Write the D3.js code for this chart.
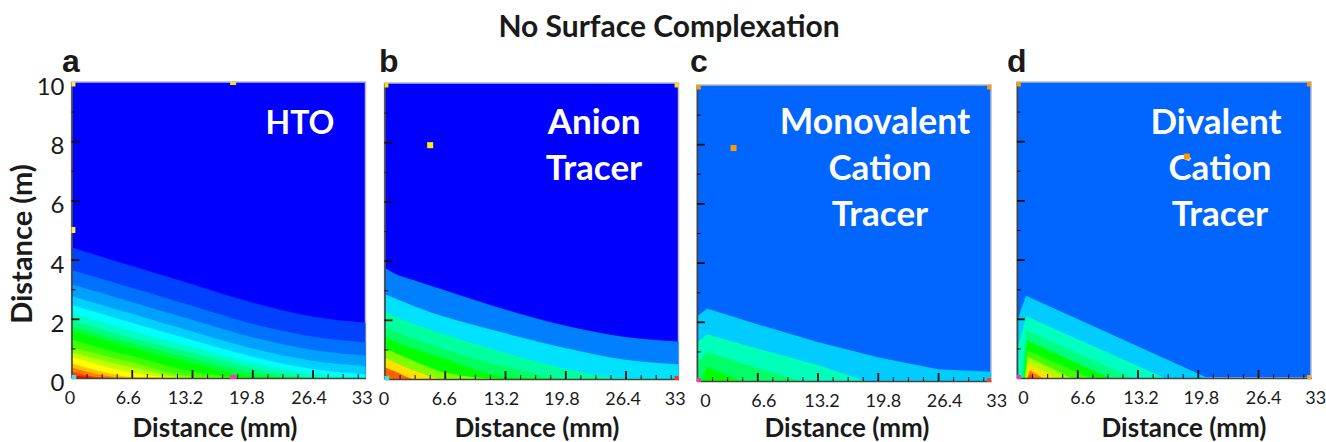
<!DOCTYPE html>
<html>
<head>
<meta charset="utf-8">
<script src="https://cdn.jsdelivr.net/npm/d3@7"></script>
<style>
  body { margin: 0; background: #fff; }
  text { font-family: Lato, "Open Sans", sans-serif; fill: #1a1a1a; }
</style>
</head>
<body>
<script>
'use strict';

const xTicks  = [0, 6.6, 13.2, 19.8, 26.4, 33];
const xMinor  = [1.65, 3.3, 4.95, 8.25, 9.9, 11.55, 14.85, 16.5, 18.15, 21.45, 23.1, 24.75, 28.05, 29.7, 31.35];
const yTicks  = [0, 2, 4, 6, 8, 10];
const yMinor  = [1, 3, 5, 7, 9];

// contour heights (m) at fixed distances (mm)
const stationsA = [0, 3.3, 6.6, 13.2, 19.8, 26.4, 32.2];
const colorsA = ['#0040ff', '#0070ff', '#00a0ff', '#00d0ff', '#00ffff', '#00ffc0', '#00ff80', '#00ff40',
                 '#00ff00', '#40ff00', '#80ff00', '#c0ff00', '#ffff00', '#ffc000', '#ff8000', '#ff4000', '#ff0000'];
const rowsA = [
  [4.42, 4.10, 3.78, 3.17, 2.55, 2.08, 1.87],
  [3.65, 3.35, 3.05, 2.44, 1.83, 1.40, 1.20],
  [3.17, 2.87, 2.57, 1.97, 1.38, 0.95, 0.76],
  [2.77, 2.47, 2.17, 1.57, 1.00, 0.58, 0.40],
  [2.47, 2.17, 1.87, 1.28, 0.72, 0.30, 0.12],
  [2.20, 1.90, 1.60, 1.05, 0.52, 0.14, 0],
  [1.95, 1.65, 1.35, 0.85, 0.33, 0.02, 0],
  [1.75, 1.45, 1.18, 0.66, 0.18, 0, 0],
  [1.60, 1.30, 1.02, 0.50, 0.06, 0, 0],
  [1.30, 1.00, 0.74, 0.22, 0, 0, 0],
  [1.05, 0.78, 0.53, 0.05, 0, 0, 0],
  [0.88, 0.60, 0.36, 0, 0, 0, 0],
  [0.72, 0.42, 0.18, 0, 0, 0, 0],
  [0.50, 0.22, 0.03, 0, 0, 0, 0],
  [0.36, 0.10, 0, 0, 0, 0, 0],
  [0.22, 0.02, 0, 0, 0, 0, 0],
  [0.10, 0, 0, 0, 0, 0, 0]
];

const stationsB = [0, 1.2, 3.3, 6.6, 13.2, 19.8, 26.4, 32.2];
const colorsB = ['#0080ff', '#00e0ff', '#00ffa0', '#00ff60', '#00ff00', '#80ff00', '#ffe000', '#ff6000'];
const rowsB = [
  [3.76, 3.55, 3.33, 3.00, 2.35, 1.80, 1.42, 1.27],
  [2.87, 2.72, 2.45, 2.10, 1.55, 1.05, 0.65, 0.50],
  [2.30, 2.10, 1.85, 1.50, 0.88, 0.35, 0.03, 0],
  [1.76, 1.60, 1.35, 1.00, 0.42, 0.02, 0, 0],
  [1.42, 1.25, 1.02, 0.68, 0.08, 0, 0, 0],
  [1.05, 0.88, 0.60, 0.22, 0, 0, 0, 0],
  [0.72, 0.55, 0.28, 0, 0, 0, 0, 0],
  [0.40, 0.25, 0, 0, 0, 0, 0, 0]
];

const colorsC = ['#00ccff', '#00ffbb', '#00ff66', '#00ff00'];
const contoursC = [
  [[0, 2.2], [0.5, 2.3], [1.1, 2.45], [6.6, 1.92], [13.2, 1.32], [19.8, 0.8], [26.4, 0.4], [32.2, 0.31]],
  [[0, 1.33], [0.5, 1.42], [1.1, 1.58], [6.6, 1.1], [13.2, 0.54], [18.5, 0]],
  [[0, 0.62], [0.5, 0.78], [1.1, 0.98], [6.6, 0.44], [11.3, 0]],
  [[0.4, 0], [1.1, 0.48], [4.9, 0]]
];

const colorsD = ['#00ccff', '#00ffc0', '#00ff80', '#00ff00', '#40ff00', '#b0ff00', '#ffe000', '#ff8000', '#ff4000'];
const contoursD = [
  [[0, 1.85], [0.4, 2.3], [1, 2.78], [20.9, 0]],
  [[0, 0.94], [0.5, 1.5], [1, 2.09], [16.2, 0]],
  [[0.5, 0], [1, 1.61], [12.7, 0]],
  [[0.7, 0], [1.1, 1.27], [10.2, 0]],
  [[0.8, 0], [1.1, 0.94], [8, 0]],
  [[0.9, 0], [1.2, 0.71], [5.9, 0]],
  [[1, 0], [1.3, 0.47], [4.3, 0]],
  [[1.1, 0], [1.4, 0.27], [2.8, 0]],
  [[1.2, 0], [1.5, 0.14], [1.9, 0]]
];

// extrema markers the plotting package left on each map: x, y, colour
const markersA = [[0.1, 9.95, '#ffe94d'], [17.7, 10, '#ffe000'], [0.1, 5, '#ffe94d'], [0.2, 0, '#40e0e0'], [17.7, 0, '#ff30c0']];
const markersB = [[0.1, 9.95, '#ffe000'], [5, 7.9, '#ffee00'], [32.1, 9.95, '#ffe000'], [0.2, 0, '#40e0e0'], [32.1, 0, '#ff3020']];
const markersC = [[0.1, 9.95, '#ff9900'], [4, 7.87, '#ff9900'], [32.1, 9.95, '#ff9900'], [0.1, 0, '#ff30c0'], [32.1, 0, '#ff4020']];
const markersD = [[0.1, 9.95, '#ff9900'], [18.6, 7.48, '#ff9900'], [32.1, 9.95, '#ff9900'], [0.1, 0, '#ff30c0'], [32.1, 0, '#ffa020']];

const withStations = (stations, rows) => rows.map(row => row.map((v, i) => [stations[i], v]));

const mapW = 294;
const mapH = 296;

const panels = [
  { letter: 'a', letterX: 62, left: 71.5, top: 82, base: '#0000ff', colors: colorsA,
    contours: withStations(stationsA, rowsA), curve: d3.curveMonotoneX, markers: markersA,
    labelNudge: [-2, -4, -7, -6, -4, -11], yLabels: true, titleX: 215,
    words: [['HTO', 300, 134, 32]] },
  { letter: 'b', letterX: 379, left: 384.5, top: 83, base: '#0000ff', colors: colorsB,
    contours: withStations(stationsB, rowsB), curve: d3.curveMonotoneX, markers: markersB,
    labelNudge: [-1, -1, -4, -4, -3, -11], yLabels: false, titleX: 537,
    words: [['Anion', 594, 134, 35], ['Tracer', 594, 180, 35]] },
  { letter: 'c', letterX: 690, left: 697, top: 85, base: '#0066ff', colors: colorsC,
    contours: contoursC, curve: d3.curveLinear, markers: markersC,
    labelNudge: [8, 6, 4, 5, 6, -2], yLabels: false, titleX: 847,
    words: [['Monovalent', 875, 134, 35.5], ['Cation', 880, 180, 35], ['Tracer', 880, 226, 35]] },
  { letter: 'd', letterX: 1007, left: 1017, top: 82, base: '#0066ff', colors: colorsD,
    contours: contoursD, curve: d3.curveLinear, markers: markersD,
    labelNudge: [6, 5, 3, 3, 5, -3], yLabels: false, titleX: 1184,
    words: [['Divalent', 1216, 134, 35], ['Cation', 1220, 180, 35], ['Tracer', 1220, 226, 35]] }
];

const svg = d3.select('body').append('svg')
  .attr('width', 1326)
  .attr('height', 442)
  .attr('viewBox', '0 0 1326 442')
  .style('display', 'block');

svg.append('text')
  .attr('x', 669)
  .attr('y', 37)
  .attr('text-anchor', 'middle')
  .style('font-size', '30px')
  .style('font-weight', 700)
  .text('No Surface Complexation');

svg.append('text')
  .attr('transform', 'translate(32,244) rotate(-90)')
  .attr('text-anchor', 'middle')
  .style('font-size', '29px')
  .style('font-weight', 700)
  .text('Distance (m)');

panels.forEach((p) => {
  const x = d3.scaleLinear().domain([0, 32.2]).range([p.left, p.left + mapW]);
  const y = d3.scaleLinear().domain([0, 10]).range([p.top + mapH, p.top]);

  const area = d3.area()
    .x(d => x(d[0]))
    .y0(y(0))
    .y1(d => y(d[1]))
    .curve(p.curve);

  svg.append('rect')
    .attr('x', x(0))
    .attr('y', y(10))
    .attr('width', x(32.2) - x(0))
    .attr('height', y(0) - y(10))
    .attr('fill', p.base)
    .attr('stroke', '#b8b8c8')
    .attr('stroke-width', 1.5);

  svg.append('g')
    .selectAll('path')
    .data(p.contours)
    .join('path')
    .attr('d', area)
    .attr('fill', (d, i) => p.colors[i]);

  // axes: minor and major ticks point into the map
  const axisInk = (g) => {
    g.selectAll('line').attr('stroke', '#111');
    g.select('.domain').attr('stroke', '#444').attr('stroke-width', 1.6);
  };

  svg.append('g')
    .attr('transform', 'translate(0,' + y(0) + ')')
    .call(d3.axisBottom(x).tickValues(xMinor).tickSize(-4).tickSizeOuter(0).tickFormat(''))
    .call(axisInk);

  const xAxis = svg.append('g')
    .attr('transform', 'translate(0,' + y(0) + ')')
    .call(d3.axisBottom(x).tickValues(xTicks).tickSize(-8).tickSizeOuter(0).tickFormat(d => d))
    .call(axisInk);
  xAxis.select('.domain').remove();
  xAxis.selectAll('.tick line').attr('stroke-width', 1.8).filter(d => d === 33 || d === 0).remove();
  xAxis.selectAll('.tick text')
    .attr('x', (d, i) => p.labelNudge[i])
    .attr('y', 13)
    .attr('dy', '0.71em')
    .style('font-size', '18px');

  svg.append('g')
    .attr('transform', 'translate(' + x(0) + ',0)')
    .call(d3.axisLeft(y).tickValues(yMinor).tickSize(-4).tickSizeOuter(0).tickFormat(''))
    .call(axisInk);

  const yAxis = svg.append('g')
    .attr('transform', 'translate(' + x(0) + ',0)')
    .call(d3.axisLeft(y).tickValues(yTicks).tickSize(-8).tickSizeOuter(0)
      .tickFormat(d => (p.yLabels ? d : '')))
    .call(axisInk);
  yAxis.select('.domain').remove();
  yAxis.selectAll('.tick line').attr('stroke-width', 1.8).filter(d => d === 0 || d === 10).remove();
  yAxis.selectAll('.tick text')
    .attr('x', -7)
    .attr('dy', '0.52em')
    .style('font-size', '24px');

  svg.append('text')
    .attr('x', p.letterX)
    .attr('y', 72)
    .style('font-family', '"Liberation Sans", sans-serif')
    .style('font-size', '32px')
    .style('font-weight', 700)
    .text(p.letter);

  svg.append('text')
    .attr('x', p.titleX)
    .attr('y', 437)
    .attr('text-anchor', 'middle')
    .style('font-size', '26px')
    .style('font-weight', 700)
    .text('Distance (mm)');

  svg.append('g')
    .selectAll('text')
    .data(p.words)
    .join('text')
    .attr('x', d => d[1])
    .attr('y', d => d[2])
    .attr('text-anchor', 'middle')
    .style('font-size', d => d[3] + 'px')
    .style('font-weight', 700)
    .style('fill', '#fff')
    .text(d => d[0]);

  // markers sit over the words, clipped to the map like the original
  const clipId = 'clip-' + p.letter;
  svg.append('clipPath')
    .attr('id', clipId)
    .append('rect')
    .attr('x', x(0))
    .attr('y', y(10))
    .attr('width', x(32.2) - x(0))
    .attr('height', y(0) - y(10) + 1);

  svg.append('g')
    .attr('clip-path', 'url(#' + clipId + ')')
    .selectAll('rect')
    .data(p.markers)
    .join('rect')
    .attr('x', d => x(d[0]) - 3)
    .attr('y', d => y(d[1]) - 3)
    .attr('width', 6)
    .attr('height', 6)
    .attr('fill', d => d[2]);
});
</script>
</body>
</html>
